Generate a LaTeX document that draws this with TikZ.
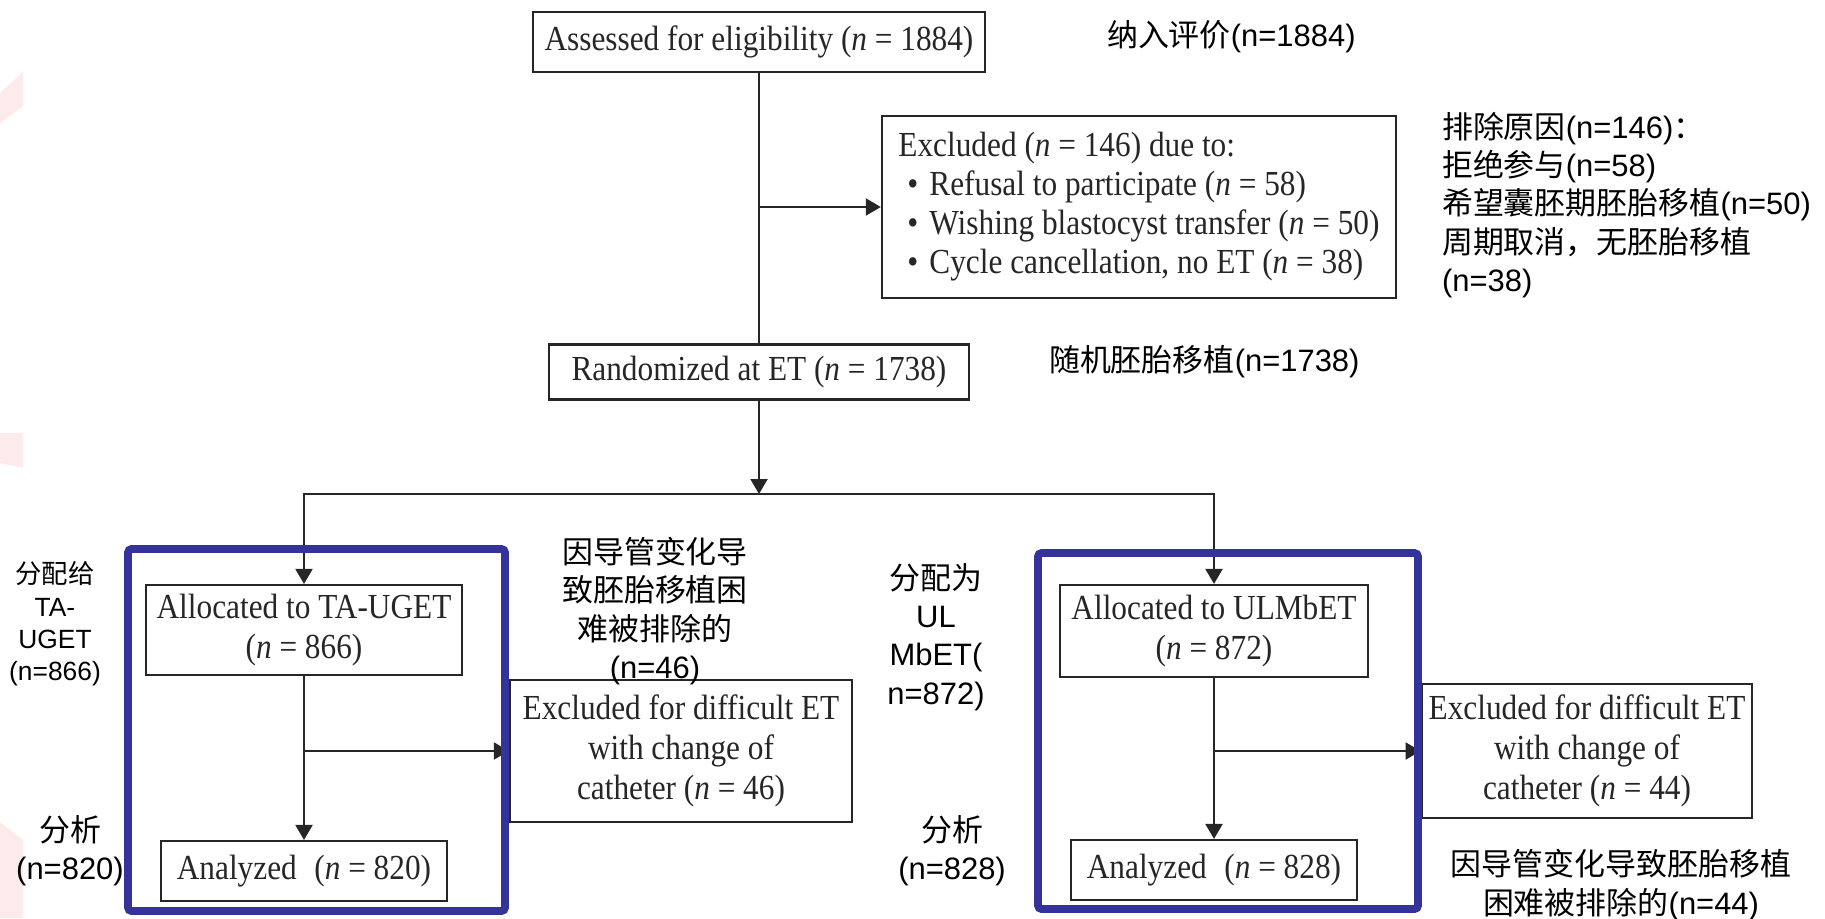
\documentclass[tikz,border=0pt]{standalone}
\usepackage{fontspec}
\setmainfont{Liberation Serif}[FakeStretch=0.89]
\newfontfamily\cjk{Noto Sans CJK SC}
\newfontfamily\arl{Liberation Sans}
\newcommand{\en}[1]{{\arl #1}}
\newcommand{\itm}[1]{\hspace{0.9mm}\textbullet\hspace{1.1mm}#1}
\usetikzlibrary{arrows.meta}
\definecolor{hlblue}{RGB}{51,51,153}
\definecolor{wmpink}{RGB}{253,234,235}

\begin{document}
\begin{tikzpicture}[x=0.01cm,y=-0.01cm,color=black!85,line width=0.6pt,
  box/.style={draw,align=center,inner sep=2pt,font=\fontsize{10}{11.4}\selectfont},
  note/.style={text=black,inner sep=0pt,align=center,font=\cjk\fontsize{8.8}{10.9}\selectfont},
  hl/.style={draw=hlblue,line width=2.2pt,rounded corners=1pt},
  >={Triangle[length=1.5mm,width=1.7mm]}]
\useasboundingbox (0,0) rectangle (1825,918);
\fill[wmpink] (0,93) -- (23,72) -- (23,106) -- (0,123) -- cycle;
\fill[wmpink] (0,433) -- (23,433) -- (23,468) -- (0,463) -- cycle;
\fill[wmpink] (0,822) -- (23,840) -- (23,918) -- (0,918) -- cycle;

\node[box,minimum width=4.52cm,minimum height=0.6cm] (elig) at (759,42) {Assessed for eligibility (\textit{n} = 1884)};
\node[box,align=left,minimum width=5.14cm,minimum height=1.82cm,font=\fontsize{10}{11.1}\selectfont] (excl) at (1139,207)
  {Excluded (\textit{n} = 146) due to:\\
   \itm{Refusal to participate (\textit{n} = 58)}\\
   \itm{Wishing blastocyst transfer (\textit{n} = 50)}\\
   \itm{Cycle cancellation, no ET (\textit{n} = 38)}};
\node[box,minimum width=4.19cm,minimum height=0.55cm] (rand) at (759,372) {Randomized at ET (\textit{n} = 1738)};
\coordinate (split) at (759,494);

\node[box,minimum width=3.15cm,minimum height=0.9cm] (allocA) at (304,630) {Allocated to TA-UGET\\(\textit{n} = 866)};
\node[box,minimum width=3.42cm,minimum height=1.42cm] (exclA) at (681,751) {Excluded for difficult ET\\with change of\\catheter (\textit{n} = 46)};
\node[box,minimum width=2.85cm,minimum height=0.6cm] (anaA) at (304,871) {Analyzed\enspace(\textit{n} = 820)};

\node[box,minimum width=3.07cm,minimum height=0.92cm] (allocB) at (1214,631) {Allocated to ULMbET\\(\textit{n} = 872)};
\node[box,minimum width=3.30cm,minimum height=1.34cm] (exclB) at (1587,751) {Excluded for difficult ET\\with change of\\catheter (\textit{n} = 44)};
\node[box,minimum width=2.86cm,minimum height=0.6cm] (anaB) at (1214,870) {Analyzed\enspace(\textit{n} = 828)};

\draw (elig) -- (rand);
\draw[->] (elig.south |- excl.west) -- (excl);
\draw[->] (rand) -- (split);
\draw[<->] (allocA) |- (split) -| (allocB);
\draw[->] (allocA) -- (anaA);
\draw[->] (allocA |- exclA) -- (exclA);
\draw[->] (allocB) -- (anaB);
\draw[->] (allocB |- exclB) -- (exclB);

\node[note,anchor=west] (n1) at (1106,37) {纳入评价\en{(n=1884)}};
\node[note,anchor=west,align=left] (n2) at (1441,205) {排除原因\en{(n=146)}：\\拒绝参与\en{(n=58)}\\希望囊胚期胚胎移植\en{(n=50)}\\周期取消，无胚胎移植\\\en{(n=38)}};
\node[note,anchor=west] (n3) at (1048,362) {随机胚胎移植\en{(n=1738)}};
\node[note] (n4) at (655,611) {因导管变化导\\致胚胎移植困\\难被排除的\\\en{(n=46)}};
\node[note,font=\cjk\fontsize{7.5}{9.2}\selectfont] (n5) at (55,624) {分配给\\\en{TA-}\\\en{UGET}\\\en{(n=866)}};
\node[note] (n6) at (70,851) {分析\\\en{(n=820)}};
\node[note] (n7) at (936,637) {分配为\\\en{UL}\\\en{MbET(}\\\en{n=872)}};
\node[note] (n8) at (952,851) {分析\\\en{(n=828)}};
\node[note] (n9) at (1621,885) {因导管变化导致胚胎移植\\困难被排除的\en{(n=44)}};

\draw[hl] (128,549) rectangle (505,911);
\draw[hl] (1038,553) rectangle (1418,909);
\end{tikzpicture}
\end{document}
